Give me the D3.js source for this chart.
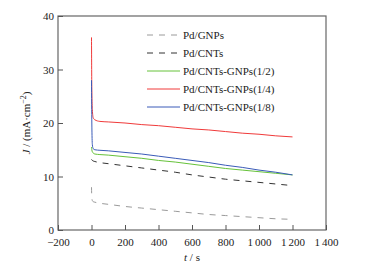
<!DOCTYPE html>
<html>
<head>
<meta charset="utf-8">
<script src="https://cdn.jsdelivr.net/npm/d3@7"></script>
<style>
  body { margin: 0; background: #fff; }
  text { font-family: "Liberation Serif", "Times New Roman", serif; fill: #222; }
</style>
</head>
<body>
<div id="chart"></div>
<script>
// Data
const times = [0, 2, 5, 10, 20, 50, 100, 200, 300, 400, 500, 600, 700, 800, 900, 1000, 1100, 1200];
const gnps   = [8.0, 6.0, 5.5, 5.3, 5.2, 5.0, 4.8, 4.4, 4.1, 3.8, 3.5, 3.2, 2.9, 2.7, 2.5, 2.3, 2.1, 2.0];
const cnts   = [13.2, 13.1, 13.0, 12.9, 12.8, 12.6, 12.4, 12.0, 11.6, 11.2, 10.8, 10.3, 9.9, 9.5, 9.2, 8.9, 8.6, 8.3];
const half   = [15.5, 15.0, 14.6, 14.4, 14.2, 14.1, 14.0, 13.7, 13.4, 13.0, 12.7, 12.3, 11.9, 11.5, 11.2, 10.9, 10.6, 10.3];
const quarter= [36, 26, 22.5, 21.0, 20.6, 20.3, 20.2, 20.0, 19.7, 19.5, 19.2, 18.9, 18.7, 18.4, 18.1, 17.9, 17.6, 17.4];
const eighth = [28, 20, 16, 15.2, 15.0, 14.9, 14.8, 14.5, 14.2, 13.8, 13.4, 13.0, 12.6, 12.1, 11.7, 11.2, 10.8, 10.3];

const seriesNames = ['Pd/GNPs', 'Pd/CNTs', 'Pd/CNTs-GNPs(1/2)', 'Pd/CNTs-GNPs(1/4)', 'Pd/CNTs-GNPs(1/8)'];
const seriesValues = [gnps, cnts, half, quarter, eighth];
const seriesColors = ['#9a9a9a', '#333333', '#66c23a', '#f03a3a', '#3a5bb8'];
const seriesDash = ['6,6', '6,6', null, null, null];

const xTicks = [-200, 0, 200, 400, 600, 800, 1000, 1200, 1400];
const yTicks = [0, 10, 20, 30, 40];

const W = 369, H = 268;
const plot = { left: 58, right: 326, top: 16, bottom: 230 };

const svg = d3.select('#chart').append('svg')
    .attr('width', W)
    .attr('height', H);

const x = d3.scaleLinear().domain([-200, 1400]).range([plot.left, plot.right]);
const y = d3.scaleLinear().domain([0, 40]).range([plot.bottom, plot.top]);

const fmt = v => {
    const s = String(Math.abs(v));
    const body = s.length > 3 ? s.slice(0, s.length - 3) + '\u2009' + s.slice(-3) : s;
    return (v < 0 ? '\u2212' : '') + body;
};

// Lines
const line = d3.line()
    .x((d, i) => x(times[i]))
    .y(d => y(d))
    .curve(d3.curveMonotoneX);

seriesValues.forEach((vals, k) => {
    svg.append('path')
        .datum(vals)
        .attr('d', line)
        .attr('fill', 'none')
        .attr('stroke', seriesColors[k])
        .attr('stroke-width', 1)
        .attr('stroke-dasharray', seriesDash[k]);
});

// Frame
svg.append('rect')
    .attr('x', plot.left)
    .attr('y', plot.top)
    .attr('width', plot.right - plot.left)
    .attr('height', plot.bottom - plot.top)
    .attr('fill', 'none')
    .attr('stroke', '#666')
    .attr('stroke-width', 1.2);

// X axis (ticks inward)
const xAxis = d3.axisBottom(x).tickValues(xTicks).tickSizeInner(-5).tickSizeOuter(0).tickPadding(8).tickFormat(fmt);
const gx = svg.append('g')
    .attr('transform', `translate(0, ${plot.bottom})`)
    .call(xAxis);
gx.select('.domain').remove();
gx.selectAll('line').attr('stroke', '#555');
gx.selectAll('text').style('font-size', '11px').style('font-family', '"Liberation Serif", serif').attr('fill', '#222');

// Y axis
const yAxis = d3.axisLeft(y).tickValues(yTicks).tickSizeInner(-5).tickSizeOuter(0).tickPadding(4);
const gy = svg.append('g')
    .attr('transform', `translate(${plot.left}, 0)`)
    .call(yAxis);
gy.select('.domain').remove();
gy.selectAll('line').attr('stroke', '#555');
gy.selectAll('text').style('font-size', '11px').style('font-family', '"Liberation Serif", serif').attr('fill', '#222');

// Axis labels
const xl = svg.append('text')
    .attr('x', x(600))
    .attr('y', 261)
    .attr('text-anchor', 'middle')
    .style('font-size', '11px');
xl.append('tspan').style('font-style', 'italic').text('t');
xl.append('tspan').text(' / s');

const yl = svg.append('text')
    .attr('transform', `translate(30, ${y(20)}) rotate(-90)`)
    .attr('text-anchor', 'middle')
    .style('font-size', '11px');
yl.append('tspan').style('font-style', 'italic').text('J');
yl.append('tspan').text(' / (mA\u00b7cm');
yl.append('tspan').attr('dy', -4).style('font-size', '8px').text('\u22122');
yl.append('tspan').attr('dy', 4).text(')');

// Legend
const legend = svg.append('g');
seriesNames.forEach((name, k) => {
    const ly = 35 + k * 18;
    legend.append('line')
        .attr('x1', 147).attr('x2', 180)
        .attr('y1', ly).attr('y2', ly)
        .attr('stroke', seriesColors[k])
        .attr('stroke-width', 1)
        .attr('stroke-dasharray', seriesDash[k]);
    legend.append('text')
        .attr('x', 183)
        .attr('y', ly + 4)
        .style('font-size', '11px')
        .text(name);
});
</script>
</body>
</html>
